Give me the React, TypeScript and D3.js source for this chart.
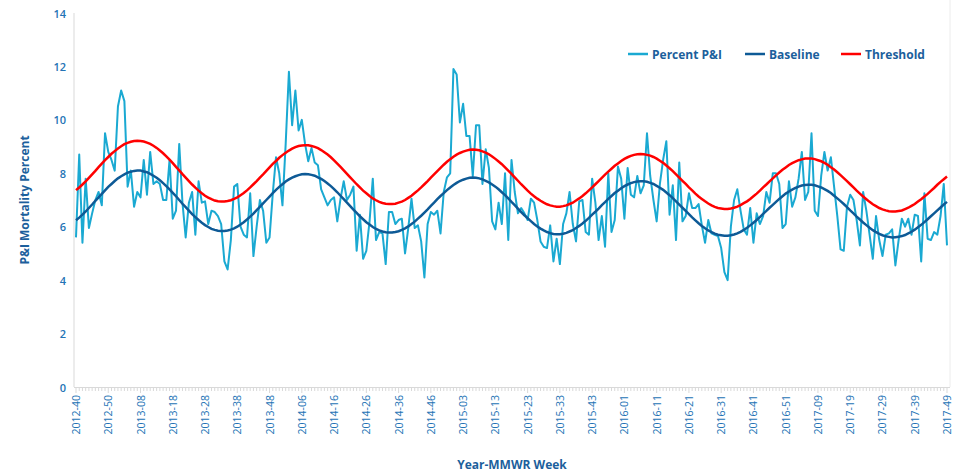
import React from 'react';
import * as d3 from 'd3';

const percentPI: number[] = [
  5.6, 8.7, 5.4, 7.8, 5.95, 6.5, 7.0, 7.3, 6.8, 9.5,
  8.8, 8.5, 8.1, 10.5, 11.1, 10.7, 7.5, 8.1, 6.75, 7.3,
  7.1, 8.5, 7.2, 8.8, 7.6, 7.7, 7.6, 7.0, 7.0, 8.5,
  6.3, 6.6, 9.1, 6.9, 5.6, 6.9, 7.3, 5.7, 7.7, 6.9,
  6.95, 6.1, 6.6, 6.55, 6.4, 6.1, 4.7, 4.4, 5.5, 7.5,
  7.6, 6.0, 5.7, 5.6, 7.25, 4.9, 6.0, 7.0, 6.6, 5.4,
  5.6, 7.25, 8.6, 8.0, 6.8, 9.1, 11.8, 9.8, 11.1, 9.6,
  10.0, 9.1, 8.45, 8.95, 8.4, 8.3, 7.4, 7.1, 6.8, 7.0,
  7.1, 6.2, 7.05, 7.7, 7.0, 7.2, 7.5, 5.1, 6.45, 4.8,
  5.1, 6.2, 7.8, 5.5, 5.8, 5.75, 4.6, 6.55, 6.55, 6.1,
  6.25, 6.3, 5.0, 5.95, 7.05, 5.95, 6.05, 5.45, 4.1, 6.1,
  6.55, 6.45, 6.6, 5.75, 7.3, 7.85, 8.0, 11.9, 11.7, 9.9,
  10.6, 9.4, 9.4, 7.9, 9.8, 9.8, 7.6, 8.9, 8.2, 6.2,
  5.9, 6.9, 6.1, 8.0, 5.5, 8.5, 7.3, 6.5, 6.7, 6.5,
  6.25, 7.05, 6.9, 6.25, 5.45, 5.25, 5.2, 6.05, 4.7, 5.55,
  4.6, 6.1, 6.5, 7.3, 6.1, 5.45, 6.95, 7.0, 5.8, 5.7,
  7.8, 6.9, 5.5, 6.4, 5.25, 8.0, 5.8, 6.25, 8.25, 7.8,
  6.3, 8.2, 7.2, 7.1, 7.9, 7.25, 7.55, 9.5, 7.9, 7.0,
  6.2, 7.6, 8.5, 9.2, 6.45, 7.55, 5.5, 8.4, 6.2, 6.4,
  7.25, 6.7, 6.7, 6.85, 6.05, 5.4, 6.25, 5.75, 5.7, 5.65,
  5.2, 4.3, 4.0, 6.0, 7.0, 7.4, 6.6, 5.9, 5.7, 6.7,
  5.4, 6.5, 6.1, 6.4, 7.3, 6.9, 8.0, 8.0, 7.6, 5.95,
  6.1, 7.7, 6.75, 7.1, 7.8, 8.8, 7.0, 7.3, 9.5, 6.6,
  6.4, 7.9, 8.8, 8.1, 8.6, 7.5, 6.4, 5.15, 5.1, 6.75,
  7.2, 7.0, 6.25, 5.3, 7.3, 6.6, 5.7, 4.8, 6.4, 5.5,
  4.9, 5.7, 5.75, 5.9, 4.55, 5.5, 6.3, 6.0, 6.3, 5.7,
  6.45, 6.4, 4.7, 7.25, 5.55, 5.5, 5.8, 5.7, 6.4, 7.6,
  5.3,
];

const baseline: number[] = [
  6.24, 6.34, 6.45, 6.57, 6.70, 6.83, 6.97, 7.10, 7.23, 7.36,
  7.49, 7.60, 7.71, 7.81, 7.89, 7.96, 8.02, 8.06, 8.09, 8.10,
  8.10, 8.07, 8.04, 7.98, 7.91, 7.83, 7.74, 7.63, 7.52, 7.40,
  7.27, 7.14, 7.00, 6.86, 6.73, 6.60, 6.47, 6.36, 6.25, 6.15,
  6.06, 5.99, 5.92, 5.88, 5.85, 5.84, 5.84, 5.86, 5.89, 5.94,
  6.00, 6.08, 6.17, 6.27, 6.38, 6.49, 6.62, 6.74, 6.87, 7.00,
  7.13, 7.26, 7.38, 7.49, 7.59, 7.69, 7.77, 7.84, 7.89, 7.93,
  7.96, 7.97, 7.96, 7.94, 7.91, 7.85, 7.79, 7.71, 7.62, 7.52,
  7.41, 7.29, 7.16, 7.03, 6.90, 6.77, 6.64, 6.52, 6.39, 6.28,
  6.17, 6.08, 5.99, 5.92, 5.86, 5.82, 5.79, 5.78, 5.78, 5.80,
  5.83, 5.88, 5.94, 6.01, 6.10, 6.19, 6.30, 6.41, 6.53, 6.65,
  6.78, 6.90, 7.03, 7.15, 7.26, 7.37, 7.47, 7.56, 7.64, 7.71,
  7.76, 7.80, 7.83, 7.84, 7.83, 7.81, 7.77, 7.72, 7.66, 7.58,
  7.50, 7.40, 7.29, 7.18, 7.06, 6.93, 6.81, 6.68, 6.55, 6.43,
  6.32, 6.21, 6.10, 6.01, 5.93, 5.86, 5.80, 5.76, 5.73, 5.72,
  5.72, 5.74, 5.77, 5.82, 5.87, 5.95, 6.03, 6.12, 6.22, 6.33,
  6.45, 6.56, 6.68, 6.81, 6.92, 7.04, 7.15, 7.26, 7.35, 7.44,
  7.52, 7.58, 7.63, 7.67, 7.69, 7.70, 7.70, 7.68, 7.64, 7.60,
  7.53, 7.46, 7.38, 7.28, 7.18, 7.07, 6.95, 6.83, 6.71, 6.59,
  6.47, 6.35, 6.24, 6.13, 6.03, 5.94, 5.86, 5.80, 5.74, 5.70,
  5.68, 5.66, 5.66, 5.68, 5.71, 5.75, 5.81, 5.88, 5.96, 6.05,
  6.15, 6.25, 6.36, 6.48, 6.59, 6.71, 6.82, 6.93, 7.04, 7.14,
  7.24, 7.32, 7.39, 7.45, 7.50, 7.54, 7.56, 7.57, 7.57, 7.55,
  7.51, 7.47, 7.41, 7.34, 7.26, 7.16, 7.06, 6.96, 6.85, 6.73,
  6.61, 6.50, 6.38, 6.27, 6.16, 6.06, 5.96, 5.87, 5.80, 5.73,
  5.68, 5.64, 5.62, 5.60, 5.61, 5.62, 5.65, 5.69, 5.75, 5.81,
  5.89, 5.98, 6.07, 6.17, 6.28, 6.39, 6.50, 6.61, 6.72, 6.83,
  6.93,
];

const threshold: number[] = [
  7.37, 7.47, 7.58, 7.70, 7.83, 7.96, 8.09, 8.23, 8.36, 8.49,
  8.61, 8.73, 8.83, 8.93, 9.01, 9.09, 9.14, 9.18, 9.21, 9.22,
  9.21, 9.19, 9.15, 9.10, 9.03, 8.95, 8.85, 8.75, 8.63, 8.51,
  8.38, 8.24, 8.11, 7.97, 7.84, 7.71, 7.58, 7.46, 7.35, 7.25,
  7.16, 7.09, 7.03, 6.98, 6.95, 6.94, 6.94, 6.96, 6.99, 7.04,
  7.10, 7.18, 7.26, 7.36, 7.47, 7.59, 7.71, 7.84, 7.96, 8.09,
  8.22, 8.35, 8.46, 8.58, 8.68, 8.77, 8.85, 8.92, 8.98, 9.02,
  9.04, 9.05, 9.05, 9.02, 8.99, 8.94, 8.87, 8.79, 8.70, 8.60,
  8.48, 8.36, 8.24, 8.11, 7.98, 7.85, 7.72, 7.59, 7.47, 7.35,
  7.25, 7.15, 7.06, 6.99, 6.93, 6.89, 6.86, 6.85, 6.85, 6.86,
  6.90, 6.94, 7.00, 7.08, 7.16, 7.26, 7.36, 7.47, 7.59, 7.71,
  7.84, 7.96, 8.08, 8.20, 8.32, 8.43, 8.53, 8.62, 8.70, 8.76,
  8.81, 8.85, 8.88, 8.89, 8.88, 8.86, 8.82, 8.77, 8.71, 8.63,
  8.54, 8.44, 8.34, 8.22, 8.10, 7.98, 7.85, 7.72, 7.59, 7.47,
  7.35, 7.24, 7.14, 7.05, 6.97, 6.90, 6.84, 6.80, 6.77, 6.75,
  6.75, 6.77, 6.80, 6.85, 6.90, 6.98, 7.06, 7.15, 7.25, 7.36,
  7.47, 7.59, 7.71, 7.83, 7.95, 8.06, 8.17, 8.28, 8.37, 8.46,
  8.54, 8.60, 8.65, 8.69, 8.71, 8.72, 8.71, 8.69, 8.66, 8.61,
  8.55, 8.47, 8.39, 8.29, 8.19, 8.08, 7.96, 7.84, 7.72, 7.60,
  7.47, 7.36, 7.24, 7.13, 7.04, 6.95, 6.87, 6.80, 6.74, 6.70,
  6.68, 6.66, 6.66, 6.68, 6.71, 6.75, 6.81, 6.88, 6.95, 7.04,
  7.14, 7.24, 7.35, 7.47, 7.58, 7.70, 7.81, 7.92, 8.03, 8.13,
  8.22, 8.31, 8.38, 8.44, 8.49, 8.52, 8.55, 8.55, 8.55, 8.53,
  8.49, 8.45, 8.39, 8.32, 8.23, 8.14, 8.04, 7.93, 7.82, 7.71,
  7.59, 7.47, 7.35, 7.24, 7.13, 7.03, 6.93, 6.84, 6.77, 6.70,
  6.65, 6.61, 6.58, 6.57, 6.57, 6.59, 6.61, 6.66, 6.71, 6.78,
  6.85, 6.94, 7.03, 7.13, 7.23, 7.34, 7.45, 7.57, 7.68, 7.78,
  7.88,
];

const tickLabels: string[] = [
  '2012-40', '2012-50', '2013-08', '2013-18', '2013-28', '2013-38', '2013-48',
  '2014-06', '2014-16', '2014-26', '2014-36', '2014-46', '2015-03', '2015-13',
  '2015-23', '2015-33', '2015-43', '2016-01', '2016-11', '2016-21', '2016-31',
  '2016-41', '2016-51', '2017-09', '2017-19', '2017-29', '2017-39', '2017-49',
];
const tickStep = 10;
const yTicks: number[] = [0, 2, 4, 6, 8, 10, 12, 14];

const seriesNames = ['Percent P&I', 'Baseline', 'Threshold'];
const COLORS = ['#1aa9d2', '#0e5a96', '#ff0000'];
const TICK_COLOR = '#2373b5';
const TITLE_COLOR = '#1c5f9c';
const FONT = '"Open Sans", "Noto Sans", sans-serif';

export default function App() {
  const W = 955;
  const H = 474;
  const n = percentPI.length;
  const x = d3.scaleLinear().domain([0, n - 1]).range([76, 947]);
  const y = d3.scaleLinear().domain([0, 14]).range([387, 13]);
  const line = d3
    .line<number>()
    .x((_, i) => x(i))
    .y((d) => y(d));

  const weeks = d3.range(n);
  const legendX = [628, 745, 841];

  return (
    <svg
      width={W}
      height={H}
      style={{ position: 'absolute', left: 0, top: 0, background: '#fff' }}
      fontFamily={FONT}
    >
      {/* axes frame */}
      <line x1={74} x2={74} y1={13} y2={387} stroke="#d9d9d9" strokeWidth={1} />
      <line x1={950} x2={950} y1={0} y2={387} stroke="#ececec" strokeWidth={1} />
      <line x1={74} x2={950} y1={387.5} y2={387.5} stroke="#d9d9d9" strokeWidth={1} />
      {weeks.map((i) => (
        <line
          key={'mt' + i}
          x1={x(i)}
          x2={x(i)}
          y1={388}
          y2={i % tickStep === 0 ? 393 : 391}
          stroke="#d9d9d9"
          strokeWidth={1}
        />
      ))}

      {/* y ticks */}
      {yTicks.map((t) => (
        <text
          key={'y' + t}
          x={66}
          y={y(t)}
          textAnchor="end"
          dominantBaseline="central"
          fontSize={11}
          fontWeight={600}
          fill={TICK_COLOR}
        >
          {t}
        </text>
      ))}

      {/* x tick labels */}
      {tickLabels.map((lab, j) => (
        <text
          key={lab}
          transform={`translate(${x(j * tickStep)},395) rotate(-90)`}
          textAnchor="end"
          dominantBaseline="central"
          fontSize={10.5}
          fill={TICK_COLOR}
        >
          {lab}
        </text>
      ))}

      {/* axis titles */}
      <text
        transform="translate(24,200) rotate(-90)"
        textAnchor="middle"
        dominantBaseline="central"
        fontSize={12}
        fontWeight={700}
        fill={TITLE_COLOR}
      >
        P&amp;I Mortality Percent
      </text>
      <text
        x={512}
        y={464}
        textAnchor="middle"
        dominantBaseline="central"
        fontSize={12}
        fontWeight={700}
        fill={TITLE_COLOR}
      >
        Year-MMWR Week
      </text>

      {/* series */}
      <path d={line(percentPI) || ''} fill="none" stroke={COLORS[0]} strokeWidth={2} strokeLinejoin="round" />
      <path d={line(baseline) || ''} fill="none" stroke={COLORS[1]} strokeWidth={2.5} />
      <path d={line(threshold) || ''} fill="none" stroke={COLORS[2]} strokeWidth={2.5} />

      {/* legend */}
      {seriesNames.map((name, i) => (
        <g key={name} transform={`translate(${legendX[i]},54)`}>
          <line x1={0} x2={20} y1={0} y2={0} stroke={COLORS[i]} strokeWidth={i === 0 ? 2.5 : 2.5} />
          <text x={24} y={0} dominantBaseline="central" fontSize={12} fontWeight={700} fill={TITLE_COLOR}>
            {name}
          </text>
        </g>
      ))}
    </svg>
  );
}
